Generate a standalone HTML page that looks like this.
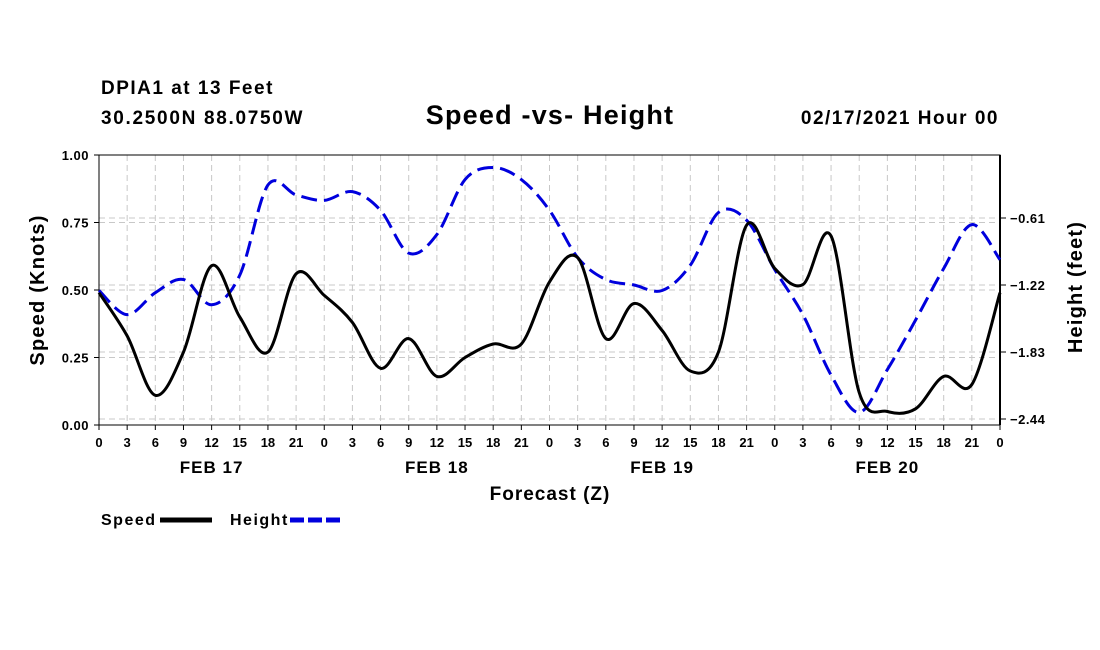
<!DOCTYPE html>
<html><head><meta charset="utf-8"><style>
body{margin:0;background:#fff;}
svg{display:block;font-family:"Liberation Sans",sans-serif;}
</style></head><body>
<svg id="c" width="1100" height="650">
<text x="101" y="94" font-size="19" letter-spacing="1.5" font-weight="bold">DPIA1 at 13 Feet</text>
<text x="101" y="124" font-size="19" letter-spacing="1.7" font-weight="bold">30.2500N 88.0750W</text>
<text x="550" y="124" font-size="27" letter-spacing="1.2" font-weight="bold" text-anchor="middle">Speed -vs- Height</text>
<text x="999" y="124" font-size="19" letter-spacing="1.5" font-weight="bold" text-anchor="end">02/17/2021 Hour 00</text>
<text x="550" y="500" font-size="19" letter-spacing="1" font-weight="bold" text-anchor="middle">Forecast (Z)</text>
<text transform="translate(44,290) rotate(-90)" font-size="20" letter-spacing="1.2" font-weight="bold" text-anchor="middle">Speed (Knots)</text>
<text transform="translate(1082,287) rotate(-90)" font-size="20" letter-spacing="1.2" font-weight="bold" text-anchor="middle">Height (feet)</text>
<g>
<text x="101" y="525" font-size="16" letter-spacing="1.5" font-weight="bold">Speed</text>
<line x1="160" y1="520" x2="212" y2="520" stroke="#000" stroke-width="5"/>
<text x="230" y="525" font-size="16" letter-spacing="1.5" font-weight="bold">Height</text>
<line x1="290" y1="520" x2="342" y2="520" stroke="#0000dd" stroke-width="5" stroke-dasharray="14,4"/>
</g>
<g id="grid"></g><g id="axes"></g><g id="series"></g>
</svg>
<script>
const hourLabels=["0","3","6","9","12","15","18","21"];
const dayLabels=["FEB 17","FEB 18","FEB 19","FEB 20"];
const speedTicks=[0,0.25,0.5,0.75,1.0];
const speedTickLabels=["0.00","0.25","0.50","0.75","1.00"];
const heightTicks=[-0.61,-1.22,-1.83,-2.44];
const speedValues=[0.49,0.33,0.11,0.27,0.59,0.40,0.27,0.56,0.48,0.38,0.21,0.32,0.18,0.25,0.30,0.30,0.53,0.62,0.32,0.45,0.35,0.20,0.27,0.74,0.58,0.52,0.70,0.12,0.05,0.06,0.18,0.15,0.49];
const heightValues=[-1.27,-1.49,-1.29,-1.17,-1.40,-1.13,-0.31,-0.40,-0.45,-0.37,-0.54,-0.93,-0.76,-0.26,-0.15,-0.26,-0.54,-0.97,-1.17,-1.22,-1.27,-1.04,-0.56,-0.63,-1.08,-1.49,-2.04,-2.38,-1.99,-1.54,-1.07,-0.67,-0.99];
const NS="http://www.w3.org/2000/svg";
const X0=99,X1=1000,YT=155,YB=425;
const x=i=>X0+(X1-X0)*i/32;
const yL=v=>YB-(YB-YT)*v;
const yR=h=>218-(h+0.61)*67/0.61;
function mk(p,t,a){const e=document.createElementNS(NS,t);for(const k in a)e.setAttribute(k,a[k]);p.appendChild(e);return e;}
const grid=document.getElementById('grid'),axes=document.getElementById('axes'),ser=document.getElementById('series');
for(let i=1;i<32;i++){const l=mk(grid,'line',{x1:x(i),x2:x(i),y1:YT,y2:YB,stroke:'#c8c8c8','stroke-dasharray':'6,4'});

}
speedTicks.forEach((v,k)=>{if(v>0&&v<1){const l=mk(grid,'line',{x1:X0,x2:X1,y1:yL(v),y2:yL(v),stroke:'#c8c8c8','stroke-dasharray':'6,4'});

}
mk(axes,'line',{x1:X0-5,x2:X0,y1:yL(v),y2:yL(v),stroke:'#000'});
const t=mk(axes,'text',{x:X0-10,y:yL(v)+5,'font-size':13,'letter-spacing':0.5,'font-weight':'bold','text-anchor':'end'});t.textContent=speedTickLabels[k];

});
heightTicks.forEach(h=>{const l=mk(grid,'line',{x1:X0,x2:X1,y1:yR(h),y2:yR(h),stroke:'#c8c8c8','stroke-dasharray':'6,4'});


mk(axes,'line',{x1:X1,x2:X1+6,y1:yR(h),y2:yR(h),stroke:'#000'});
const t=mk(axes,'text',{x:X1+10,y:yR(h)+5,'font-size':13,'letter-spacing':0.5,'font-weight':'bold'});t.textContent=h.toFixed(2).replace('-','\u2212');

});
const fr=mk(axes,'rect',{x:X0,y:YT,width:X1-X0,height:YB-YT,fill:'none',stroke:'#000','stroke-width':1});


mk(axes,'line',{x1:X1,x2:X1,y1:YT,y2:YB,stroke:'#000','stroke-width':2});
for(let i=0;i<=32;i++){mk(axes,'line',{x1:x(i),x2:x(i),y1:YB,y2:YB+5,stroke:'#000'});
const t=mk(axes,'text',{x:x(i),y:YB+22,'font-size':13,'font-weight':'bold','text-anchor':'middle'});t.textContent=hourLabels[i%8];

}
dayLabels.forEach((d,k)=>{const t=mk(axes,'text',{x:x(8*k+4),y:YB+48,'font-size':17,'letter-spacing':1,'font-weight':'bold','text-anchor':'middle'});t.textContent=d;

});
function path(pts){let d=`M${pts[0][0]},${pts[0][1]}`;for(let i=0;i<pts.length-1;i++){const p0=pts[Math.max(0,i-1)],p1=pts[i],p2=pts[i+1],p3=pts[Math.min(pts.length-1,i+2)];
d+=` C${p1[0]+(p2[0]-p0[0])/6},${p1[1]+(p2[1]-p0[1])/6} ${p2[0]-(p3[0]-p1[0])/6},${p2[1]-(p3[1]-p1[1])/6} ${p2[0]},${p2[1]}`;}return d;}
const hp=mk(ser,'path',{d:path(heightValues.map((h,i)=>[x(i),yR(h)])),fill:'none',stroke:'#0000dd','stroke-width':3,'stroke-dasharray':'16,7'});


const sp=mk(ser,'path',{d:path(speedValues.map((v,i)=>[x(i),yL(v)])),fill:'none',stroke:'#000','stroke-width':3});


</script>
</body></html>
